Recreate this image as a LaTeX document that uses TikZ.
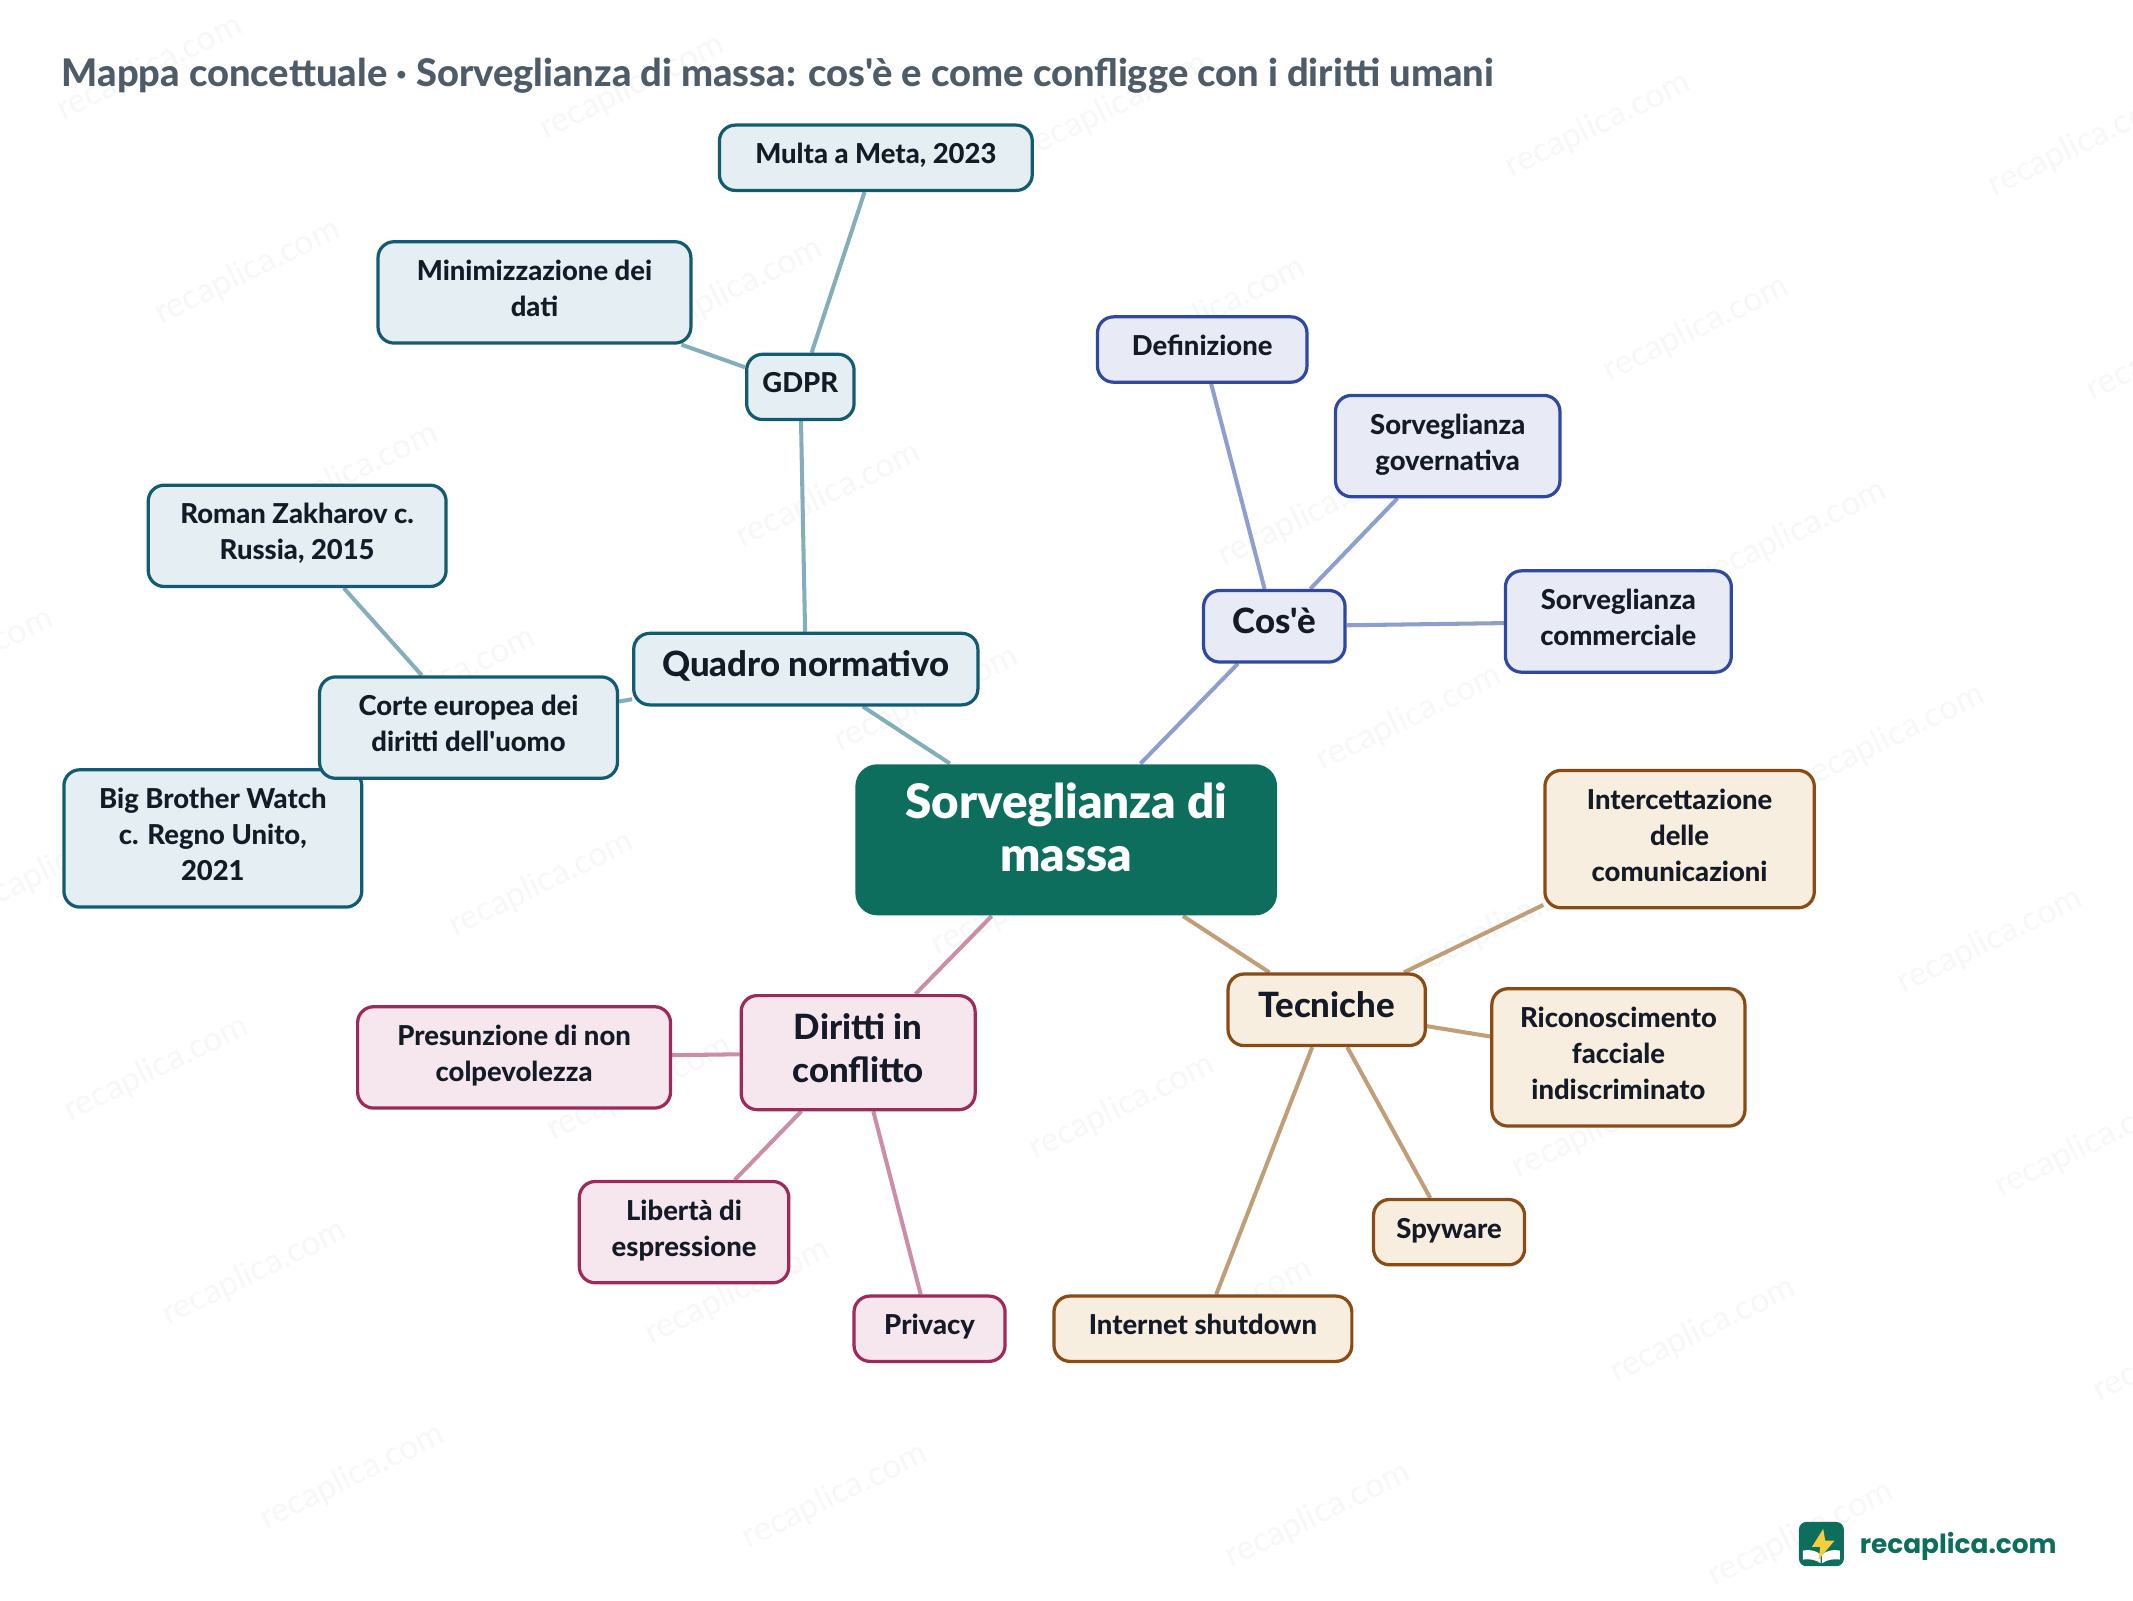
\documentclass[tikz,border=0pt]{standalone}
\usepackage{fontspec}
\setmainfont{Lato}[Ligatures=TeXOff,BoldFont=* Heavy]
\newfontfamily\blackfont{Lato}[UprightFont=* Black]
\newfontfamily\logofont{Poppins}
\usetikzlibrary{backgrounds}
\definecolor{crootbg}{HTML}{0D6E5E}
\definecolor{ctextdark}{HTML}{141B26}
\definecolor{ctitle}{HTML}{4E5B69}
\definecolor{cwmark}{HTML}{F6F7F7}
\definecolor{cteal}{HTML}{125B70}
\definecolor{ctealbg}{HTML}{E4EEF3}
\definecolor{ctealln}{HTML}{85AEBB}
\definecolor{cblue}{HTML}{2F48A0}
\definecolor{cbluebg}{HTML}{E8EBF6}
\definecolor{cblueln}{HTML}{8D9ECF}
\definecolor{cbrown}{HTML}{8A4B14}
\definecolor{cbrownbg}{HTML}{F7EEDF}
\definecolor{cbrownln}{HTML}{C09E78}
\definecolor{cpink}{HTML}{9E2A5C}
\definecolor{cpinkbg}{HTML}{F6E7EF}
\definecolor{cpinkln}{HTML}{CD8DA9}
\definecolor{cbolt}{HTML}{F6CE3A}

\begin{document}
\begin{tikzpicture}[
    x=0.0136cm,y=-0.0136cm,
    concept/.style={
        rounded corners=0.16cm, line width=0.92pt,
        align=center, text=ctextdark, inner sep=0pt,
    },
    leaf/.style={concept, font=\bfseries\fontsize{7.8}{10.25}\selectfont, text height=0.387cm, text depth=0.266cm},
    branch/.style={concept, font=\bfseries\fontsize{9.9}{12.1}\selectfont, text height=0.433cm, text depth=0.282cm},
    teal/.style={draw=cteal, fill=ctealbg},
    blue/.style={draw=cblue, fill=cbluebg},
    brown/.style={draw=cbrown, fill=cbrownbg},
    pink/.style={draw=cpink, fill=cpinkbg},
    twolines/.style={text height=0.747cm},
    threelines/.style={text height=1.107cm},
    link/.style={line width=1.15pt},
    wmark/.style={font=\fontsize{9.6}{9.6}\selectfont, text=cwmark, rotate=26, inner sep=0pt},
]
\useasboundingbox (0,0) rectangle (1568.4,1176.5);

% title
\node[anchor=base west, inner sep=0pt, text=ctitle, font=\bfseries\fontsize{10.83}{13}\selectfont]
    (title) at (45,63.5) {Mappa concettuale · Sorveglianza di massa: cos'è e come confligge con i diritti umani};

% centre
\node[rounded corners=0.22cm, fill=crootbg, text=white, align=center, inner sep=0pt,
    minimum width=4.216cm, text height=1.074cm, text depth=0.436cm,
    font=\blackfont\fontsize{13.5}{15.1}\selectfont] (root) at (784,617.5) {Sorveglianza di\\massa};

% quadro normativo
\node[branch, teal, minimum width=3.441cm] (quadro) at (592.5,492) {Quadro normativo};
\node[leaf, teal, minimum width=1.074cm] (gdpr) at (588.5,284.5) {GDPR};
\node[leaf, teal, minimum width=3.128cm] (multa) at (644,116) {Multa a Meta, 2023};
\node[leaf, teal, twolines, minimum width=3.128cm] (minim) at (393,215) {Minimizzazione dei\\dati};
\node[leaf, teal, twolines, minimum width=2.978cm] (zakharov) at (218.5,394) {Roman Zakharov c.\\Russia, 2015};
\node[leaf, teal, threelines, minimum width=2.978cm] (bigbro) at (156.5,616.5) {Big Brother Watch\\c. Regno Unito,\\2021};
\node[leaf, teal, twolines, minimum width=2.978cm] (corte) at (344.5,535) {Corte europea dei\\diritti dell'uomo};

% cos'è
\node[branch, blue, minimum width=1.414cm] (cose) at (937,460.5) {Cos'è};
\node[leaf, blue, minimum width=2.094cm] (defin) at (884,257) {Definizione};
\node[leaf, blue, twolines, minimum width=2.244cm] (govern) at (1064.5,328) {Sorveglianza\\governativa};
\node[leaf, blue, twolines, minimum width=2.258cm] (commer) at (1190,457) {Sorveglianza\\commerciale};

% tecniche
\node[branch, brown, minimum width=1.972cm] (tecn) at (975.5,742.5) {Tecniche};
\node[leaf, brown, threelines, minimum width=2.693cm] (interc) at (1235,617) {Intercettazione\\delle\\comunicazioni};
\node[leaf, brown, threelines, minimum width=2.530cm] (ricon) at (1190,777.5) {Riconoscimento\\facciale\\indiscriminato};
\node[leaf, brown, minimum width=1.510cm] (spy) at (1065.5,906) {Spyware};
\node[leaf, brown, minimum width=2.978cm] (shutdown) at (884.5,977) {Internet shutdown};

% diritti
\node[branch, pink, text height=0.867cm, text depth=0.273cm, minimum width=2.339cm] (diritti) at (631,774) {Diritti in\\conflitto};
\node[leaf, pink, twolines, minimum width=3.128cm] (presun) at (378,777.5) {Presunzione di non\\colpevolezza};
\node[leaf, pink, twolines, minimum width=2.094cm] (liberta) at (503,906) {Libertà di\\espressione};
\node[leaf, pink, minimum width=1.510cm] (privacy) at (683.5,977) {Privacy};

% connectors and watermark behind the boxes
\begin{scope}[on background layer]
    \foreach \k in {0,...,7} {
        \foreach \j in {-1,...,4} {
            \pgfmathtruncatemacro{\wx}{110+72*\k+355*\j}
            \pgfmathtruncatemacro{\wy}{50+150*\k+14*\j}
            \ifnum\wx>-70 \ifnum\wx<1640
                \node[wmark] (wm\k\j) at (\wx,\wy) {recaplica.com};
            \fi\fi
        }
    }
    \foreach \a/\b in {root/quadro,quadro/gdpr,gdpr/multa,gdpr/minim,quadro/corte,corte/zakharov,corte/bigbro}
        \draw[link, ctealln] (\a) -- (\b);
    \foreach \a/\b in {root/cose,cose/defin,cose/govern,cose/commer}
        \draw[link, cblueln] (\a) -- (\b);
    \foreach \a/\b in {root/tecn,tecn/interc,tecn/ricon,tecn/spy,tecn/shutdown}
        \draw[link, cbrownln] (\a) -- (\b);
    \foreach \a/\b in {root/diritti,diritti/presun,diritti/liberta,diritti/privacy}
        \draw[link, cpinkln] (\a) -- (\b);
\end{scope}

% logo
\begin{scope}[shift={(1315.9,1113.7)},x=0.00333cm,y=-0.00333cm]
    \fill[crootbg, rounded corners=0.075cm] (28,22) rectangle (163,155);
    \fill[white] (40,108) .. controls (60,104) and (80,108) .. (93,120) -- (93,146)
        .. controls (80,136) and (60,132) .. (40,135) -- cycle;
    \fill[white] (151,108) .. controls (131,104) and (111,108) .. (98,120) -- (98,146)
        .. controls (111,136) and (131,132) .. (151,135) -- cycle;
    \fill[cbolt] (101,43) -- (67,97) -- (92,97) -- (87,135) -- (135,78) -- (107,78) -- cycle;
\end{scope}
\node[anchor=base west, inner sep=0pt, text=crootbg, font=\logofont\bfseries\fontsize{7.5}{9}\selectfont]
    (logotext) at (1367,1142.4) {recaplica.com};
\end{tikzpicture}
\end{document}
